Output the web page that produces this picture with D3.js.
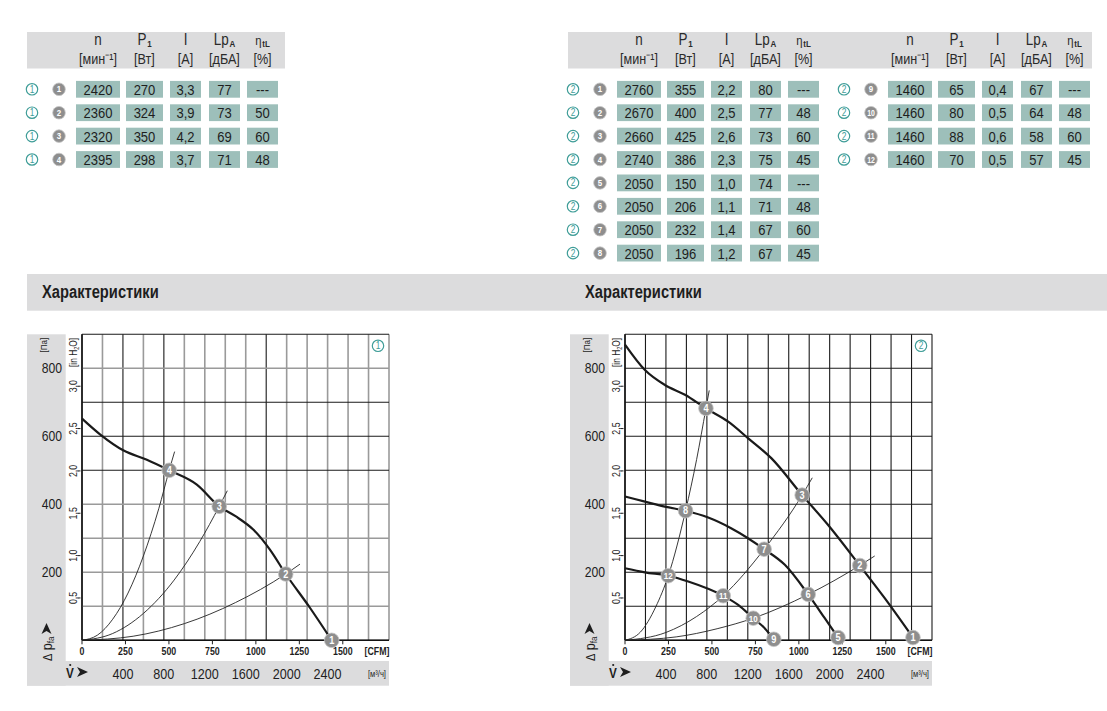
<!DOCTYPE html>
<html>
<head>
<meta charset="utf-8">
<script src="https://cdn.jsdelivr.net/npm/d3@7"></script>
<style>
  body { margin: 0; background: #fff; }
  svg { display: block; font-family: "Liberation Sans", Arial, sans-serif; }
</style>
</head>
<body>
<svg id="chart" width="1107" height="711"></svg>
<script>
// ---- table data ----
const colNames = ['n', 'P', 'I', 'Lp', 'η']
const colSubs = ['', '1', '', 'A', 'tL']
const colUnits = ['[мин⁻¹]', '[Вт]', '[А]', '[дБА]', '[%]']

const table1Points = ['1', '2', '3', '4']
const table1Rows = [
  ['2420', '270', '3,3', '77', '---'],
  ['2360', '324', '3,9', '73', '50'],
  ['2320', '350', '4,2', '69', '60'],
  ['2395', '298', '3,7', '71', '48'],
]

const table2aPoints = ['1', '2', '3', '4', '5', '6', '7', '8']
const table2aRows = [
  ['2760', '355', '2,2', '80', '---'],
  ['2670', '400', '2,5', '77', '48'],
  ['2660', '425', '2,6', '73', '60'],
  ['2740', '386', '2,3', '75', '45'],
  ['2050', '150', '1,0', '74', '---'],
  ['2050', '206', '1,1', '71', '48'],
  ['2050', '232', '1,4', '67', '60'],
  ['2050', '196', '1,2', '67', '45'],
]

const table2bPoints = ['9', '10', '11', '12']
const table2bRows = [
  ['1460', '65', '0,4', '67', '---'],
  ['1460', '80', '0,5', '64', '48'],
  ['1460', '88', '0,6', '58', '60'],
  ['1460', '70', '0,5', '57', '45'],
]

// ---- axis ticks ----
const paTicks = [200, 400, 600, 800]
const inH2OTicks = [0.5, 1.0, 1.5, 2.0, 2.5, 3.0]
const cfmTicks = [0, 250, 500, 750, 1000, 1250, 1500]
const m3hTicks = [400, 800, 1200, 1600, 2000, 2400]

// ---- chart 1 data: [m³/h, Pa] ----
const chart1Curves = [
  [[0, 652], [179, 605], [407, 558], [634, 531], [852, 500], [1122, 458], [1341, 394],
   [1500, 365], [1676, 325], [1838, 266], [1991, 195], [2229, 95], [2440, 0]],
]
const chart1Lines = [
  [[0, 0], [150, 15], [300, 62], [450, 139], [600, 248], [750, 387], [852, 500], [905, 555]],
  [[0, 0], [300, 20], [600, 79], [900, 177], [1150, 290], [1341, 394], [1420, 440]],
  [[0, 0], [500, 12], [1000, 49], [1500, 111], [1991, 195], [2130, 224]],
]
const chart1Points = [
  ['1', 2440, 0], ['2', 1991, 195], ['3', 1341, 394], ['4', 852, 500],
]

// ---- chart 2 data ----
const chart2Curves = [
  [[0, 870], [195, 795], [390, 751], [586, 722], [791, 682], [1009, 643], [1204, 594],
   [1432, 535], [1731, 427], [1985, 339], [2294, 220], [2538, 124], [2814, 8]],
  [[0, 423], [195, 408], [390, 393], [592, 381], [813, 361], [1041, 329], [1360, 268],
   [1562, 222], [1790, 135], [1952, 65], [2082, 8]],
  [[0, 212], [195, 200], [423, 190], [618, 173], [960, 131], [1106, 104], [1253, 65],
   [1367, 35], [1454, 3]],
]
const chart2Lines = [
  [[0, 0], [150, 24], [300, 98], [423, 190], [592, 381], [700, 532], [791, 682], [823, 735]],
  [[0, 0], [400, 23], [700, 70], [960, 131], [1360, 268], [1731, 427], [1830, 478]],
  [[0, 0], [500, 10], [900, 34], [1253, 65], [1790, 135], [2294, 220], [2440, 248]],
]
const chart2Points = [
  ['1', 2814, 8], ['2', 2294, 220], ['3', 1731, 427], ['4', 791, 682],
  ['5', 2082, 8], ['6', 1790, 135], ['7', 1360, 268], ['8', 592, 381],
  ['9', 1454, 3], ['10', 1253, 65], ['11', 960, 131], ['12', 423, 190],
]

const PA_PER_INH2O = 249.09
const M3H_PER_CFM = 1.699
const NARROW = 0.84

const panel = '#dcdcdd'
const tealCell = '#9dbfba'
const teal = '#3f9d98'
const markerGray = '#8e8e8e'
const ink = '#1e1e1e'

const svg = d3.select('#chart')

// ---- tables ----
const colOff = [66, 112.5, 153.5, 192.5, 230.5]
const colW = [44, 37, 31, 31, 31]
const rowY0 = 89.3
const rowStep = 23.4

function tealCircle(g, cx, cy, label) {
  g.append('circle').attr('cx', cx).attr('cy', cy).attr('r', 5.7)
    .attr('fill', '#fff').attr('stroke', teal).attr('stroke-width', 1.2)
  g.append('text').attr('x', cx).attr('y', cy + 3.4).attr('text-anchor', 'middle')
    .attr('font-size', 10).attr('fill', teal).text(label)
}

function grayMarker(g, cx, cy, label, r) {
  g.append('circle').attr('cx', cx).attr('cy', cy).attr('r', r)
    .attr('fill', markerGray).attr('stroke', '#c4c4c4').attr('stroke-width', 0.8)
  g.append('text').attr('x', cx).attr('y', cy + r * 0.5).attr('text-anchor', 'middle')
    .attr('font-size', label.length > 1 ? r * 1.3 : r * 1.5).attr('font-weight', 'bold')
    .attr('fill', '#fff').text(label)
}

function drawHeader(cx) {
  colNames.forEach((name, i) => {
    // symbol and its subscript as two texts, centred together over the column
    const g = svg.append('g')
    const base = g.append('text').attr('x', 0).attr('y', 44.5)
      .attr('font-size', name === 'η' ? 13.5 : 16).attr('fill', '#2a2a2a').text(name)
    const bw = base.node().getComputedTextLength() * NARROW
    let sw = 0
    if (colSubs[i]) {
      const sub = g.append('text').attr('x', bw + 0.8).attr('y', 46.5)
        .attr('font-size', 9.5).attr('font-weight', 'bold').attr('fill', '#2a2a2a').text(colSubs[i])
      sw = sub.node().getComputedTextLength() * NARROW + 0.8
    }
    g.attr('transform', `translate(${cx + colOff[i] - (bw + sw) / 2},0)`)
    svg.append('text').attr('x', cx + colOff[i]).attr('y', 64)
      .attr('text-anchor', 'middle').attr('font-size', 15).attr('fill', '#2a2a2a')
      .text(colUnits[i])
  })
}

function drawRows(cx, chartNo, points, rows) {
  const g = svg.append('g')
  rows.forEach((row, r) => {
    const cy = rowY0 + r * rowStep
    tealCircle(g, cx, cy, chartNo)
    grayMarker(g, cx + 27, cy, points[r], 6.3)
    row.forEach((val, i) => {
      g.append('rect').attr('x', cx + colOff[i] - colW[i] / 2).attr('y', cy - 8.4)
        .attr('width', colW[i]).attr('height', 16.8).attr('fill', tealCell)
      g.append('text').attr('x', cx + colOff[i]).attr('y', cy + 5.6)
        .attr('text-anchor', 'middle').attr('font-size', 15.5).attr('fill', ink).text(val)
    })
  })
}

svg.append('rect').attr('x', 27).attr('y', 32).attr('width', 258).attr('height', 36.5).attr('fill', panel)
svg.append('rect').attr('x', 568).attr('y', 32).attr('width', 524).attr('height', 36.5).attr('fill', panel)
drawHeader(32)
drawHeader(573)
drawHeader(844)
drawRows(32, '1', table1Points, table1Rows)
drawRows(573, '2', table2aPoints, table2aRows)
drawRows(844, '2', table2bPoints, table2bRows)

// ---- section heading band ----
svg.append('rect').attr('x', 27).attr('y', 274).attr('width', 1080).attr('height', 36.7).attr('fill', panel)
;[42, 585].forEach(hx => {
  svg.append('text').attr('x', hx).attr('y', 297.5).attr('font-size', 17.5)
    .attr('font-weight', 'bold').attr('fill', ink).text('Характеристики')
})

// ---- charts ----
function drawChart(px, tag, curves, lines, points, darkX, darkY) {
  const w = 307, h = 306, py = 334.3
  const x = d3.scaleLinear().domain([0, 3000]).range([px, px + w])
  const y = d3.scaleLinear().domain([0, 900]).range([py + h, py])
  const g = svg.append('g')

  // gray frame pieces
  g.append('rect').attr('x', px - 55).attr('y', py).attr('width', 38.7).attr('height', 351.4).attr('fill', panel)
  g.append('rect').attr('x', px - 55).attr('y', 661).attr('width', w + 55).attr('height', 24.7).attr('fill', panel)
  g.append('rect').attr('x', px).attr('y', py).attr('width', w).attr('height', h).attr('fill', '#fff')

  // grid
  const isDark = (set, v) => set === 'all' || set.includes(v)
  g.append('g').selectAll('line').data(d3.range(0, 3001, 200)).join('line')
    .attr('x1', d => x(d)).attr('x2', d => x(d)).attr('y1', py).attr('y2', py + h)
    .attr('stroke', d => isDark(darkX, d) ? '#1a1a1a' : '#9a9a9a')
    .attr('stroke-width', d => isDark(darkX, d) ? 1.1 : 1.6)
  g.append('g').selectAll('line').data(d3.range(0, 901, 100)).join('line')
    .attr('y1', d => y(d)).attr('y2', d => y(d)).attr('x1', px).attr('x2', px + w)
    .attr('stroke', d => isDark(darkY, d) ? '#1a1a1a' : '#9a9a9a')
    .attr('stroke-width', d => isDark(darkY, d) ? 1.1 : 1.6)
  g.append('line').attr('x1', px).attr('x2', px).attr('y1', py).attr('y2', py + h)
    .attr('stroke', '#111').attr('stroke-width', 1.5)
  g.append('line').attr('x1', px).attr('x2', px + w).attr('y1', py + h).attr('y2', py + h)
    .attr('stroke', '#111').attr('stroke-width', 1.5)

  // Pa labels
  g.selectAll('.pa').data(paTicks).join('text')
    .attr('x', px - 20).attr('y', d => y(d) + 5).attr('text-anchor', 'end')
    .attr('font-size', 14.5).attr('fill', ink).text(d => d)
  g.append('text').attr('transform', `translate(${px - 35},${py + 3.5}) rotate(-90)`)
    .attr('text-anchor', 'end').attr('font-size', 9.5).attr('fill', ink).text('[Па]')

  // in H2O labels
  inH2OTicks.forEach(v => {
    const yy = y(v * PA_PER_INH2O)
    g.append('text').attr('transform', `translate(${px - 5.5},${yy}) rotate(-90)`)
      .attr('text-anchor', 'middle').attr('font-size', 10.5).attr('fill', ink)
      .text(d3.format('.1f')(v).replace('.', ','))
    g.append('line').attr('x1', px - 4.5).attr('x2', px - 1.5).attr('y1', yy).attr('y2', yy)
      .attr('stroke', ink).attr('stroke-width', 1)
  })
  const ih = g.append('text').attr('transform', `translate(${px - 5.5},${py + 3.5}) rotate(-90)`)
    .attr('text-anchor', 'end').attr('font-size', 10).attr('fill', ink)
  ih.append('tspan').text('[in H')
  ih.append('tspan').attr('font-size', 6.5).attr('dy', 2).text('2')
  ih.append('tspan').attr('dy', -2).text('O]')

  // Δ p_fa label with arrow
  const dp = g.append('g').attr('transform', `translate(${px - 30.5},${661}) rotate(-90)`)
  const dpt = dp.append('text').attr('x', 0).attr('y', 0).attr('font-size', 15).attr('fill', ink)
  dpt.append('tspan').attr('font-size', 13).text('Δ')
  dpt.append('tspan').text(' p')
  dpt.append('tspan').attr('font-size', 9.5).attr('dy', 2.5).text('fa')
  dp.append('path').attr('d', 'M27,-10 L38,-5 L27,0 L30,-5 Z').attr('fill', ink)

  // CFM axis
  cfmTicks.forEach(c => {
    const xx = x(c * M3H_PER_CFM)
    g.append('line').attr('x1', xx).attr('x2', xx).attr('y1', py + h).attr('y2', py + h + 4)
      .attr('stroke', ink).attr('stroke-width', 1)
    g.append('text').attr('x', xx).attr('y', py + h + 15).attr('text-anchor', 'middle')
      .attr('font-size', 10.5).attr('font-weight', 'bold').attr('fill', ink).text(c)
  })
  g.append('text').attr('x', px + w - 12).attr('y', py + h + 15).attr('text-anchor', 'middle')
    .attr('font-size', 10.5).attr('font-weight', 'bold').attr('fill', ink).text('[CFM]')

  // m3/h axis
  g.selectAll('.m3').data(m3hTicks).join('text')
    .attr('x', d => x(d)).attr('y', 678.5).attr('text-anchor', 'middle')
    .attr('font-size', 15).attr('fill', ink).text(d => d)
  g.append('text').attr('x', px + w - 12).attr('y', 677).attr('text-anchor', 'middle')
    .attr('font-size', 9).attr('fill', ink).text('[м³/ч]')
  g.append('text').attr('x', px - 16).attr('y', 678).attr('font-size', 14)
    .attr('font-weight', 'bold').attr('fill', ink).text('V')
  g.append('circle').attr('cx', px - 11.8).attr('cy', 665).attr('r', 1.1).attr('fill', ink)
  g.append('path').attr('d', `M${px - 5},667 L${px + 6},672 L${px - 5},677 L${px - 2},672 Z`).attr('fill', ink)

  // system curves and fan curves
  const line = d3.line().x(d => x(d[0])).y(d => y(d[1])).curve(d3.curveMonotoneX)
  g.append('g').selectAll('path').data(lines).join('path')
    .attr('d', line).attr('fill', 'none').attr('stroke', '#222').attr('stroke-width', 0.9)
  g.append('g').selectAll('path').data(curves).join('path')
    .attr('d', line).attr('fill', 'none').attr('stroke', '#1a1a1a').attr('stroke-width', 2.2)

  // operating points
  points.forEach(p => grayMarker(g, x(p[1]), y(p[2]), p[0], 7.3))

  // chart tag
  tealCircle(g, px + w - 11, py + 11.5, tag)
}

drawChart(82, '1', chart1Curves, chart1Lines, chart1Points, [0, 400, 800, 1800], [0, 500, 600, 700, 900])
drawChart(625, '2', chart2Curves, chart2Lines, chart2Points, 'all', 'all')

// narrow all text to imitate the condensed typeface of the original
svg.selectAll('text').each(function() {
  const len = this.getComputedTextLength()
  d3.select(this).attr('textLength', len * NARROW).attr('lengthAdjust', 'spacingAndGlyphs')
})
</script>
</body>
</html>
